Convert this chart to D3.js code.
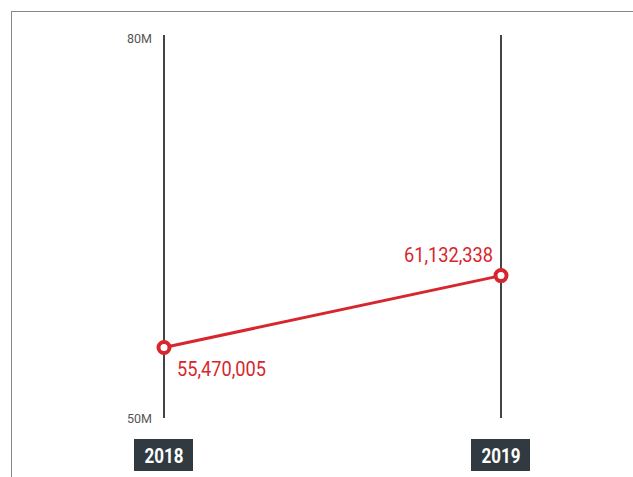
<!DOCTYPE html>
<html>
<head>
<meta charset="UTF-8">
<script src="https://d3js.org/d3.v7.min.js"></script>
<style>
    body { margin: 0; background: #fff; }
    svg { display: block; }
    .frame { fill: none; stroke: #888; stroke-width: 1px; }
    .axis-line { stroke: #444; stroke-width: 2px; }
    .tick-label { font-family: 'Roboto', sans-serif; font-size: 12px; fill: #555; }
    .year-box { fill: #323a41; }
    .year-text { font-family: 'Roboto', sans-serif; font-size: 21px; font-weight: bold; fill: #fff; }
    .value-label { font-family: 'Roboto', sans-serif; font-size: 21px; fill: #d7262d; }
</style>
</head>
<body>
<svg width="633" height="477"></svg>
<script>
    // データ
    const years = ["2018", "2019"];
    const values = [55470005, 61132338];
    const domainTicks = [50000000, 80000000];
    const tickLabels = ["50M", "80M"];

    const svg = d3.select("svg");
    const red = "#d7262d";

    // 外枠
    svg.append("rect")
        .attr("class", "frame")
        .attr("x", 11.5)
        .attr("y", 11.5)
        .attr("width", 630)
        .attr("height", 480);

    const x = d3.scalePoint()
        .domain(years)
        .range([164, 501]);

    const y = d3.scaleLinear()
        .domain(domainTicks)
        .range([417, 36]);

    // 縦軸
    svg.selectAll(".axis-line")
        .data(years)
        .enter()
        .append("line")
        .attr("class", "axis-line")
        .attr("x1", d => x(d))
        .attr("x2", d => x(d))
        .attr("y1", y(domainTicks[1]) - 1)
        .attr("y2", y(domainTicks[0]) + 1);

    // 目盛ラベル（左の軸のみ）
    svg.selectAll(".tick-label")
        .data(domainTicks)
        .enter()
        .append("text")
        .attr("class", "tick-label")
        .attr("x", x(years[0]) - 12)
        .attr("y", (d, i) => i === 0 ? y(d) + 6 : y(d) + 7)
        .attr("text-anchor", "end")
        .attr("textLength", 25)
        .attr("lengthAdjust", "spacingAndGlyphs")
        .text((d, i) => tickLabels[i]);

    // 年ラベル
    const yearG = svg.selectAll(".year")
        .data(years)
        .enter()
        .append("g")
        .attr("class", "year")
        .attr("transform", d => `translate(${x(d)}, 455)`);

    yearG.append("rect")
        .attr("class", "year-box")
        .attr("x", -30)
        .attr("y", -16)
        .attr("width", 59)
        .attr("height", 32);

    yearG.append("text")
        .attr("class", "year-text")
        .attr("x", -19.5)
        .attr("y", 7.5)
        .attr("textLength", 39)
        .attr("lengthAdjust", "spacingAndGlyphs")
        .text(d => d);

    // 折れ線
    const line = d3.line()
        .x((d, i) => x(years[i]))
        .y(d => y(d));

    svg.append("path")
        .datum(values)
        .attr("d", line)
        .attr("fill", "none")
        .attr("stroke", red)
        .attr("stroke-width", 3);

    // 点
    svg.selectAll(".dot")
        .data(values)
        .enter()
        .append("circle")
        .attr("class", "dot")
        .attr("cx", (d, i) => x(years[i]))
        .attr("cy", d => y(d))
        .attr("r", 5.5)
        .attr("fill", "#fff")
        .attr("stroke", red)
        .attr("stroke-width", 4);

    // 値ラベル
    const fmt = d3.format(",");
    svg.selectAll(".value-label")
        .data(values)
        .enter()
        .append("text")
        .attr("class", "value-label")
        .attr("x", (d, i) => i === 0 ? x(years[i]) + 13 : x(years[i]) - 97)
        .attr("y", (d, i) => i === 0 ? y(d) + 28 : y(d) - 14)
        .attr("textLength", 89)
        .attr("lengthAdjust", "spacingAndGlyphs")
        .text(d => fmt(d));
</script>
</body>
</html>
